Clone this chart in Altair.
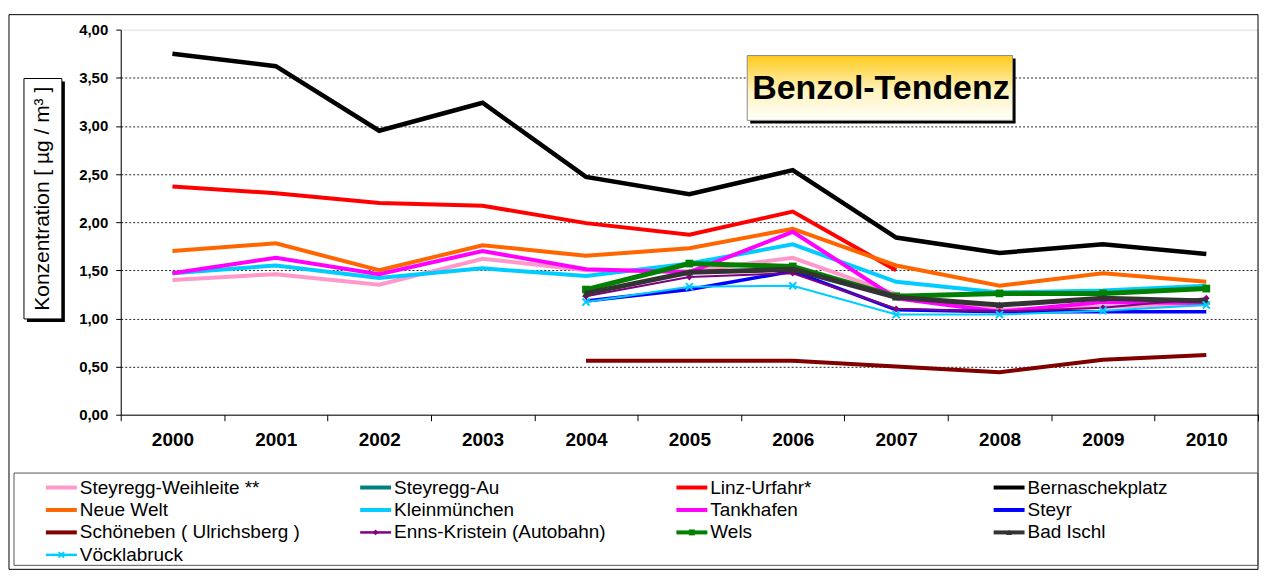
import altair as alt
import pandas as pd

years = [2000, 2001, 2002, 2003, 2004, 2005, 2006, 2007, 2008, 2009, 2010]

names = [
    "Steyregg-Weihleite **", "Steyregg-Au", "Linz-Urfahr*", "Bernaschekplatz",
    "Neue Welt", "Kleinmünchen", "Tankhafen", "Steyr",
    "Schöneben ( Ulrichsberg )", "Enns-Kristein (Autobahn)", "Wels", "Bad Ischl",
    "Vöcklabruck",
]
colors = [
    "#FF99CC", "#008080", "#FF0000", "#000000",
    "#FF6600", "#00CCFF", "#FF00FF", "#0000FF",
    "#800000", "#800080", "#008000", "#333333",
    "#00CCFF",
]
N = None
values = [
    [1.40, 1.46, 1.35, 1.62, 1.50, 1.49, 1.63, 1.25, 1.09, 1.12, 1.15],
    [N, N, N, N, N, N, N, N, N, N, N],
    [2.37, 2.30, 2.20, 2.17, 1.99, 1.87, 2.11, 1.50, N, N, N],
    [3.75, 3.62, 2.95, 3.24, 2.47, 2.29, 2.54, 1.84, 1.68, 1.77, 1.67],
    [1.70, 1.78, 1.50, 1.76, 1.65, 1.73, 1.93, 1.55, 1.34, 1.47, 1.38],
    [1.47, 1.55, 1.42, 1.52, 1.44, 1.57, 1.77, 1.38, 1.27, 1.29, 1.34],
    [1.47, 1.63, 1.46, 1.70, 1.51, 1.48, 1.90, 1.21, 1.07, 1.17, 1.16],
    [N, N, N, N, 1.18, 1.30, 1.49, 1.09, 1.07, 1.07, 1.07],
    [N, N, N, N, 0.56, 0.56, 0.56, 0.50, 0.44, 0.57, 0.62],
    [N, N, N, N, 1.23, 1.43, 1.47, 1.10, 1.07, 1.11, 1.21],
    [N, N, N, N, 1.30, 1.57, 1.54, 1.23, 1.26, 1.26, 1.31],
    [N, N, N, N, 1.26, 1.48, 1.51, 1.22, 1.14, 1.21, 1.18],
    [N, N, N, N, 1.17, 1.33, 1.34, 1.04, 1.04, 1.08, 1.14],
]
y_ticks = [0, 0.5, 1, 1.5, 2, 2.5, 3, 3.5, 4]

# styles
widths = [4, 4, 4, 4.5, 4, 4, 4, 3.5, 4, 2, 5, 5, 2]
X_PATH = "M-1,-1L1,1M-1,1L1,-1"
markers = [None, None, None, None, None, None, None, None, None,
           ("diamond", 45), ("square", 60), ("triangle-up", 60), (X_PATH, 50)]

W, H = 1140, 386
FONT = "Liberation Sans"

x_enc = alt.X(
    "year:O",
    scale=alt.Scale(type="band", paddingInner=0, paddingOuter=0),
    bandPosition=0.5,
    axis=alt.Axis(
        title=None, labelAngle=0, labelFontSize=19, labelFontWeight="bold",
        labelColor="#000", tickBand="extent", tickSize=6, tickColor="#000",
        domainColor="#000", labelPadding=10, grid=False,
    ),
)
y_enc = alt.Y(
    "value:Q",
    scale=alt.Scale(domain=[0, 4], nice=False),
    axis=alt.Axis(
        title=None, values=y_ticks,
        labelExpr="replace(format(datum.value, '.2f'), '.', ',')",
        labelFontSize=15, labelFontWeight="bold", labelColor="#000",
        tickSize=5, tickColor="#000", domainColor="#000", labelPadding=8,
        grid=True, gridColor="#000", gridDash=[2, 2], gridWidth=1,
        gridOpacity={"condition": {"test": "datum.value === 4 || datum.value === 0", "value": 0}, "value": 0.85},
    ),
)

layers = []


def box(x1, x2, y1, y2, **kw):
    return alt.Chart(pd.DataFrame({"a": [0]})).mark_rect(**kw).encode(
        x=alt.value(x1), x2=alt.value(x2), y=alt.value(y1), y2=alt.value(y2))


# outer frame
layers.append(box(-112, W, -15, 541, fill="white", fillOpacity=0, stroke="#000", strokeWidth=1))
# legend frame
layers.append(box(-107, W, 444.5, 537, fill="white", fillOpacity=0, stroke="#555", strokeWidth=1))

# data lines
for name, col, vals, w, mk in zip(names, colors, values, widths, markers):
    rows = [{"year": y, "value": v} for y, v in zip(years, vals) if v is not None]
    if not rows:
        continue
    df = pd.DataFrame(rows)
    base = alt.Chart(df)
    layers.append(base.mark_line(color=col, strokeWidth=w, strokeJoin="miter").encode(x=x_enc, y=y_enc))
    if mk is not None:
        shape, size = mk
        if shape == X_PATH:
            layers.append(base.mark_point(shape=shape, size=size, filled=False, color=col,
                                          strokeWidth=2, opacity=1).encode(x=x_enc, y=y_enc))
        else:
            layers.append(base.mark_point(shape=shape, size=size, filled=True, color=col,
                                          opacity=1).encode(x=x_enc, y=y_enc))

# y axis title box
layers.append(box(-94, -56, 52, 293, fill="#000"))
layers.append(box(-97, -59, 49, 290, fill="white", stroke="#000", strokeWidth=1))
layers.append(alt.Chart(pd.DataFrame({"a": [0]})).mark_text(
    text="Konzentration  [ µg / m³ ]", angle=270, fontSize=21, font=FONT, color="#000",
    align="center", baseline="middle").encode(x=alt.value(-78), y=alt.value(169.5)))

# title box
title_grad = alt.Gradient(
    gradient="linear",
    stops=[alt.GradientStop(color="#FFCB1C", offset=0), alt.GradientStop(color="#FFF3C0", offset=0.55),
           alt.GradientStop(color="#FFFFFA", offset=1)],
    x1=0, x2=0, y1=0, y2=1)
layers.append(box(631, 897, 29, 94, fill="#000"))
layers.append(box(628, 894, 26, 91, fill=title_grad, stroke="#8a8a8a", strokeWidth=1))
layers.append(alt.Chart(pd.DataFrame({"a": [0]})).mark_text(
    text="Benzol-Tendenz", fontSize=34, fontWeight="bold", font=FONT, color="#000",
    align="center", baseline="middle").encode(x=alt.value(762), y=alt.value(60)))

# legend
col_x = [-75, 240, 557, 875]
row_y = [459, 481.5, 504, 526.5]
for i, (name, col, w, mk) in enumerate(zip(names, colors, widths, markers)):
    cx = col_x[i % 4]
    ry = row_y[i // 4]
    one = alt.Chart(pd.DataFrame({"a": [0]}))
    lw = 4 if w >= 3 else 2.5
    layers.append(one.mark_rule(color=col, strokeWidth=lw).encode(
        x=alt.value(cx), x2=alt.value(cx + 31), y=alt.value(ry)))
    if mk is not None:
        shape, size = mk
        if shape == X_PATH:
            layers.append(one.mark_point(shape=shape, size=30, filled=False, color=col, strokeWidth=1.8,
                                         opacity=1).encode(x=alt.value(cx + 15.5), y=alt.value(ry)))
        else:
            layers.append(one.mark_point(shape=shape, size=35, filled=True, color=col,
                                         opacity=1).encode(x=alt.value(cx + 15.5), y=alt.value(ry)))
    layers.append(one.mark_text(text=name, fontSize=19, font=FONT, color="#000", align="left",
                                baseline="middle").encode(x=alt.value(cx + 34), y=alt.value(ry)))

chart = alt.layer(*layers).properties(
    width=W, height=H,
    padding={"left": 0, "top": 5, "right": 0, "bottom": 0},
).configure_view(stroke="#888", strokeWidth=1).configure(font=FONT)

chart.save("out.html", embed_options={"renderer": "svg", "actions": False})
